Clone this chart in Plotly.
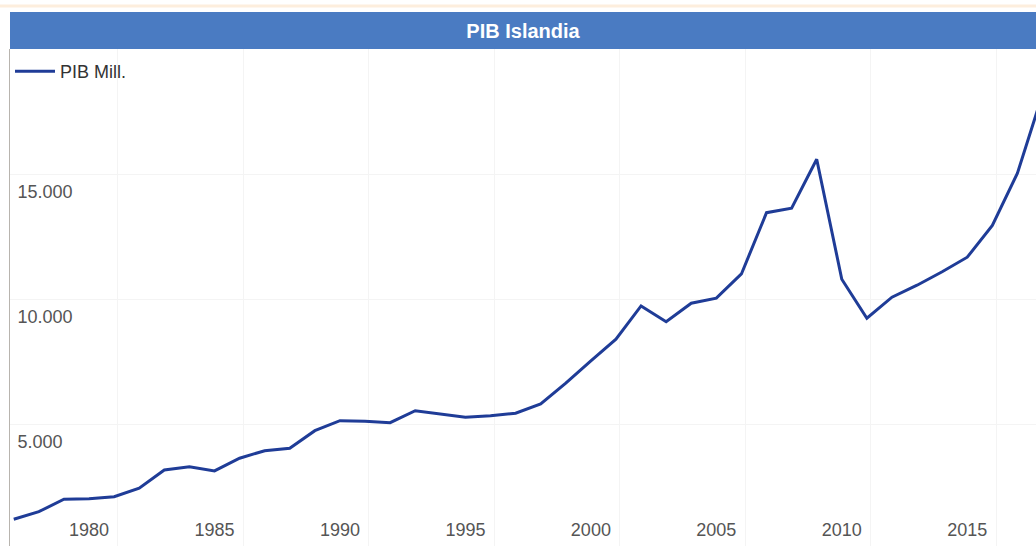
import plotly.graph_objects as go

# Data (millions)
years = list(range(1977, 2019))
pib_mill = [1900, 2200, 2700, 2720, 2800, 3140, 3870, 4000, 3830, 4340,
            4640, 4740, 5440, 5840, 5820, 5760, 6240, 6110, 5980, 6040,
            6140, 6510, 7340, 8230, 9100, 10430, 9800, 10540, 10740, 11710,
            14160, 14340, 16300, 11500, 9940, 10780, 11260, 11800, 12380, 13650,
            15740, 18900]

x_ticks = [1980, 1985, 1990, 1995, 2000, 2005, 2010, 2015]
y_ticks = [5000, 10000, 15000]
title_text = "PIB Islandia"
series_name = "PIB Mill."

W, H = 1036, 546
ML, MT = 10, 49
PW, PH = W - ML, H - MT

fig = go.Figure()
fig.add_trace(go.Scatter(
    x=years, y=pib_mill, mode="lines", name=series_name,
    line=dict(color="#1f3c97", width=3),
    showlegend=True,
))

font_family = "Liberation Sans, Arial, sans-serif"

fig.update_layout(
    width=W, height=H,
    margin=dict(l=ML, r=0, t=MT, b=0, pad=0),
    paper_bgcolor="white", plot_bgcolor="white",
    separators=",.",
    font=dict(family=font_family, size=18, color="#555555"),
    title=dict(text=title_text, x=0.5, xref="paper", xanchor="center",
               y=1 - 30.5 / H, yref="container", yanchor="middle",
               font=dict(family=font_family, size=20, color="white", weight="bold")),
    showlegend=True,
    legend=dict(x=0, y=1 - 4 / PH, xanchor="left", yanchor="top", xref="paper", yref="paper",
                bgcolor="rgba(0,0,0,0)", borderwidth=0, itemwidth=40,
                font=dict(family=font_family, size=18, color="#333333")),
    xaxis=dict(range=[1976.85, 2017.74], tickmode="array", tickvals=x_ticks,
               ticks="", showgrid=False, zeroline=False, showline=False,
               ticklabelposition="inside", ticklabelstandoff=3,
               tickfont=dict(size=18, color="#555555"),
               minor=dict(tick0=1981.15, dtick=5, showgrid=True,
                          gridcolor="#f4f4f4", gridwidth=1, ticks="")),
    yaxis=dict(range=[828, 20708], tickmode="array", tickvals=y_ticks,
               tickformat=",d", ticks="", showgrid=False, zeroline=False,
               showline=True, linecolor="#b8b4ae", linewidth=1,
               ticklabelposition="inside", ticklabelstandoff=8,
               tickfont=dict(size=18, color="#555555"),
               minor=dict(tick0=700, dtick=5000, showgrid=True,
                          gridcolor="#f4f4f4", gridwidth=1, ticks="")),
    shapes=[
        dict(type="rect", xref="paper", yref="paper",
             x0=0, x1=1, y0=1, y1=1 + (MT - 12) / PH,
             fillcolor="#4a7bc2", line=dict(width=0), layer="below"),
        dict(type="line", xref="paper", yref="paper",
             x0=-ML / PW, x1=1, y0=1 + (MT - 6) / PH, y1=1 + (MT - 6) / PH,
             line=dict(color="#fdeedd", width=3)),
    ],
)

fig.write_html("out.html", config={"displayModeBar": False},
               post_script="document.body.style.margin='0';")
